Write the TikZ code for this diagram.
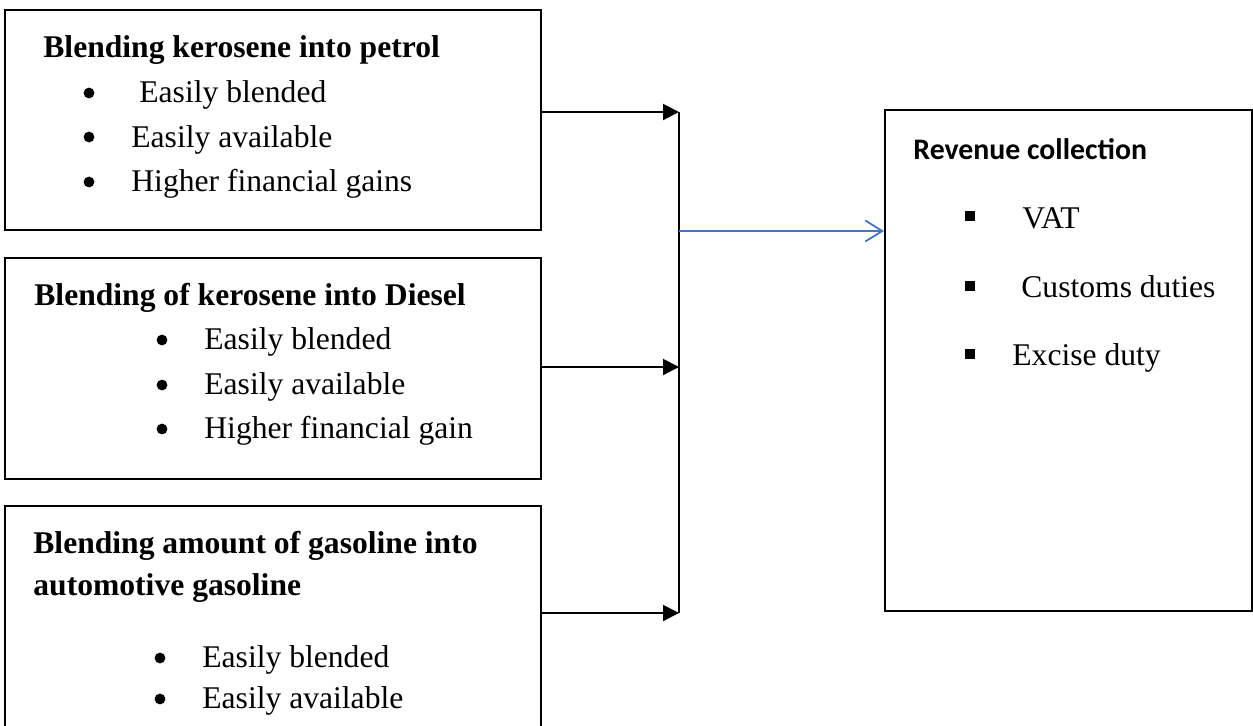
\documentclass[tikz,border=0pt]{standalone}
\usepackage{fontspec}
\setmainfont{Liberation Serif}
\newfontfamily\calibri{Carlito}
\usetikzlibrary{arrows.meta,positioning}
\definecolor{linkblue}{HTML}{4472C4}

\begin{document}
\begin{tikzpicture}[x=0.5pt,y=-0.5pt,
    box/.style={draw,line width=1pt,inner sep=0pt,minimum width=268pt},
    head/.style={anchor=base west,inner sep=0pt,font=\fontsize{15.8}{21}\selectfont\bfseries},
    item/.style={anchor=base west,inner sep=0pt,font=\fontsize{15.8}{21}\selectfont},
    dot/.style={circle,fill,inner sep=0pt,minimum size=5.4pt},
    sqdot/.style={rectangle,fill,inner sep=0pt,minimum size=5pt},
    feed/.style={line width=1pt,-{Triangle[length=8pt,width=8pt]}},
    tax/.style={draw=linkblue,line width=0.9pt,-{Straight Barb[length=8.5pt,width=10.5pt]}}]
    \clip (0,0) rectangle (1253,725);

    % blending boxes
    \node[box,minimum height=110pt] (petrol) at (273,120) {};
    \node[box,minimum height=110.5pt] (diesel) at (273,368.5) {};
    \node[box,minimum height=137pt] (gasoline) at (273,643) {};
    \node[box,minimum width=183.5pt,minimum height=250.5pt] (revenue) at (1068.5,360.5) {};

    \node[head] (petrolhead) at (43,57) {Blending kerosene into petrol};
    \node[dot] (pb1) at (89,93) {};
    \node[dot] (pb2) at (89,137) {};
    \node[dot] (pb3) at (89,182) {};
    \node[item] (pi1) at (139,102) {Easily blended};
    \node[item] (pi2) at (131,147) {Easily available};
    \node[item] (pi3) at (131,191) {Higher financial gains};

    \node[head] (dieselhead) at (34,305) {Blending of kerosene into Diesel};
    \node[dot] (db1) at (162,340) {};
    \node[dot] (db2) at (162,385) {};
    \node[dot] (db3) at (162,429) {};
    \node[item] (di1) at (204,349) {Easily blended};
    \node[item] (di2) at (204,394) {Easily available};
    \node[item] (di3) at (204,438) {Higher financial gain};

    \node[head] (gashead) at (33,553) {Blending amount of gasoline into};
    \node[head] (gashead2) at (33,595) {automotive gasoline};
    \node[dot] (gb1) at (160,658) {};
    \node[dot] (gb2) at (160,699) {};
    \node[item] (gi1) at (202,667) {Easily blended};
    \node[item] (gi2) at (202,708) {Easily available};

    % revenue box
    \node[anchor=base west,inner sep=0pt,font=\calibri\fontsize{14.9}{18}\selectfont\bfseries] (revhead) at (913,159) {Revenue collection};
    \node[sqdot] (rb1) at (970,216) {};
    \node[sqdot] (rb2) at (970,286) {};
    \node[sqdot] (rb3) at (970,354) {};
    \node[item] (ri1) at (1022,228) {VAT};
    \node[item] (ri2) at (1021,297) {Customs duties};
    \node[item] (ri3) at (1012,365) {Excise duty};

    % connectors
    \coordinate (j1) at (679,112);
    \coordinate (j2) at (679,367);
    \coordinate (j3) at (679,613);
    \coordinate (hub) at (679,231);
    \draw[feed] (petrol.east |- j1) -- (j1);
    \draw[feed] (diesel.east |- j2) -- (j2);
    \draw[feed] (gasoline.east |- j3) -- (j3);
    \draw[line width=1pt] (j1) -- (j3);
    \draw[tax] (hub) -- (revenue.west |- hub);
\end{tikzpicture}
\end{document}
